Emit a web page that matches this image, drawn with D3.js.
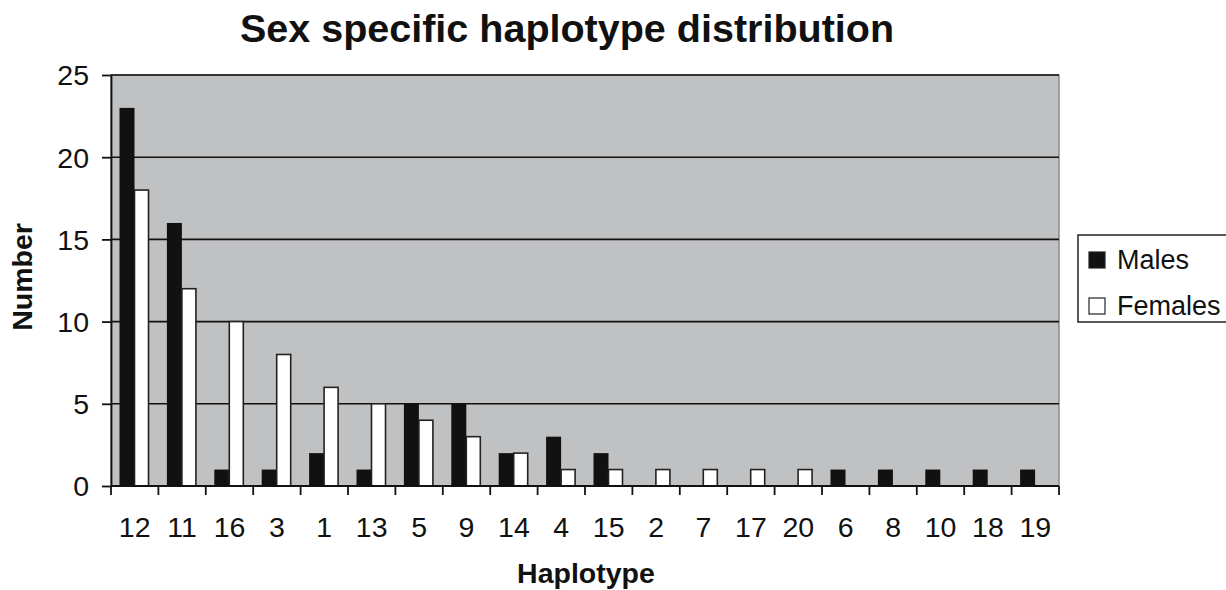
<!DOCTYPE html>
<html lang="en">
<head>
<meta charset="UTF-8">
<title>Sex specific haplotype distribution</title>
<script src="https://cdn.jsdelivr.net/npm/d3@7"></script>
<style>
body{margin:0;background:#fff;}
text{font-family:"Liberation Sans",Arial,sans-serif;fill:#111;}
</style>
</head>
<body>
<script>
var haplotypes=['12','11','16','3','1','13','5','9','14','4','15','2','7','17','20','6','8','10','18','19']
var males=[23,16,1,1,2,1,5,5,2,3,2,0,0,0,0,1,1,1,1,1]
var females=[18,12,10,8,6,5,4,3,2,1,1,1,1,1,1,0,0,0,0,0]
var seriesNames=['Males','Females']
var yTicks=[0,5,10,15,20,25]

var width=1226,height=590
var plot={left:111,top:75,right:1059,bottom:486}

var svg=d3.select('body').append('svg').attr('width',width).attr('height',height)

var x=d3.scaleBand().domain(haplotypes).range([plot.left,plot.right])
var inner=d3.scaleBand().domain(seriesNames).range([8.5,8.5+30])
var y=d3.scaleLinear().domain([0,25]).range([plot.bottom,plot.top])

// plot background
svg.append('rect').attr('x',plot.left).attr('y',plot.top)
    .attr('width',plot.right-plot.left).attr('height',plot.bottom-plot.top)
    .attr('fill','#c0c1c3').attr('stroke','#8a8a8a').attr('stroke-width',1.5)

// gridlines
svg.append('g').selectAll('line').data(yTicks.filter(d=>d>0)).enter().append('line')
    .attr('x1',plot.left).attr('x2',plot.right)
    .attr('y1',d=>y(d)).attr('y2',d=>y(d))
    .attr('stroke','#111').attr('stroke-width',1.6)

// bars
var groups=svg.append('g').selectAll('g').data(haplotypes).enter().append('g')
    .attr('transform',d=>'translate('+x(d)+',0)')
groups.append('rect')
    .attr('x',inner('Males')).attr('width',inner.bandwidth())
    .attr('y',(d,i)=>y(males[i])).attr('height',(d,i)=>y(0)-y(males[i]))
    .attr('fill','#111')
groups.filter((d,i)=>females[i]>0).append('rect')
    .attr('x',inner('Females')).attr('width',inner.bandwidth()-1)
    .attr('y',d=>y(females[haplotypes.indexOf(d)])).attr('height',d=>y(0)-y(females[haplotypes.indexOf(d)]))
    .attr('fill','#fff').attr('stroke','#222').attr('stroke-width',1.6)

// y axis
var yAxis=d3.axisLeft(y).tickValues(yTicks).tickSize(9).tickSizeOuter(0)
var gy=svg.append('g').attr('transform','translate('+plot.left+',0)').call(yAxis)
gy.select('.domain').attr('stroke','#111').attr('stroke-width',1.8)
gy.selectAll('.tick line').attr('stroke','#111').attr('stroke-width',1.8)
gy.selectAll('.tick text').attr('x',-22).attr('dy','0.35em').style('font-size','28.5px').attr('fill','#111')

// x axis
var xEdges=haplotypes.map(d=>x(d)).concat([plot.right])
var gx=svg.append('g')
gx.append('line').attr('x1',plot.left).attr('x2',plot.right).attr('y1',plot.bottom).attr('y2',plot.bottom)
    .attr('stroke','#111').attr('stroke-width',1.8)
gx.selectAll('line.t').data(xEdges).enter().append('line').attr('class','t')
    .attr('x1',d=>d).attr('x2',d=>d).attr('y1',plot.bottom).attr('y2',plot.bottom+9)
    .attr('stroke','#111').attr('stroke-width',1.8)
gx.selectAll('text').data(haplotypes).enter().append('text')
    .attr('x',d=>x(d)+x.bandwidth()/2).attr('y',537)
    .attr('text-anchor','middle').style('font-size','28.5px').text(d=>d)

// titles
svg.append('text').attr('x',567).attr('y',42).attr('text-anchor','middle')
    .style('font-size','39.5px').style('font-weight','bold').text('Sex specific haplotype distribution')
svg.append('text').attr('x',586).attr('y',583).attr('text-anchor','middle')
    .style('font-size','28.5px').style('font-weight','bold').text('Haplotype')
svg.append('text').attr('transform','translate(32,277) rotate(-90)').attr('text-anchor','middle')
    .style('font-size','28.5px').style('font-weight','bold').text('Number')

// legend
var lg=svg.append('g').attr('transform','translate(1078,235)')
lg.append('rect').attr('width',160).attr('height',87).attr('fill','#fff').attr('stroke','#222').attr('stroke-width',1.5)
var items=lg.selectAll('g').data(seriesNames).enter().append('g')
    .attr('transform',(d,i)=>'translate(11,'+(17+i*46)+')')
items.append('rect').attr('width',16).attr('height',16)
    .attr('fill',(d,i)=>i==0?'#111':'#fff').attr('stroke','#222').attr('stroke-width',1.2)
items.append('text').attr('x',28).attr('y',8).attr('dy','0.35em').style('font-size','27px').text(d=>d)
</script>
</body>
</html>
